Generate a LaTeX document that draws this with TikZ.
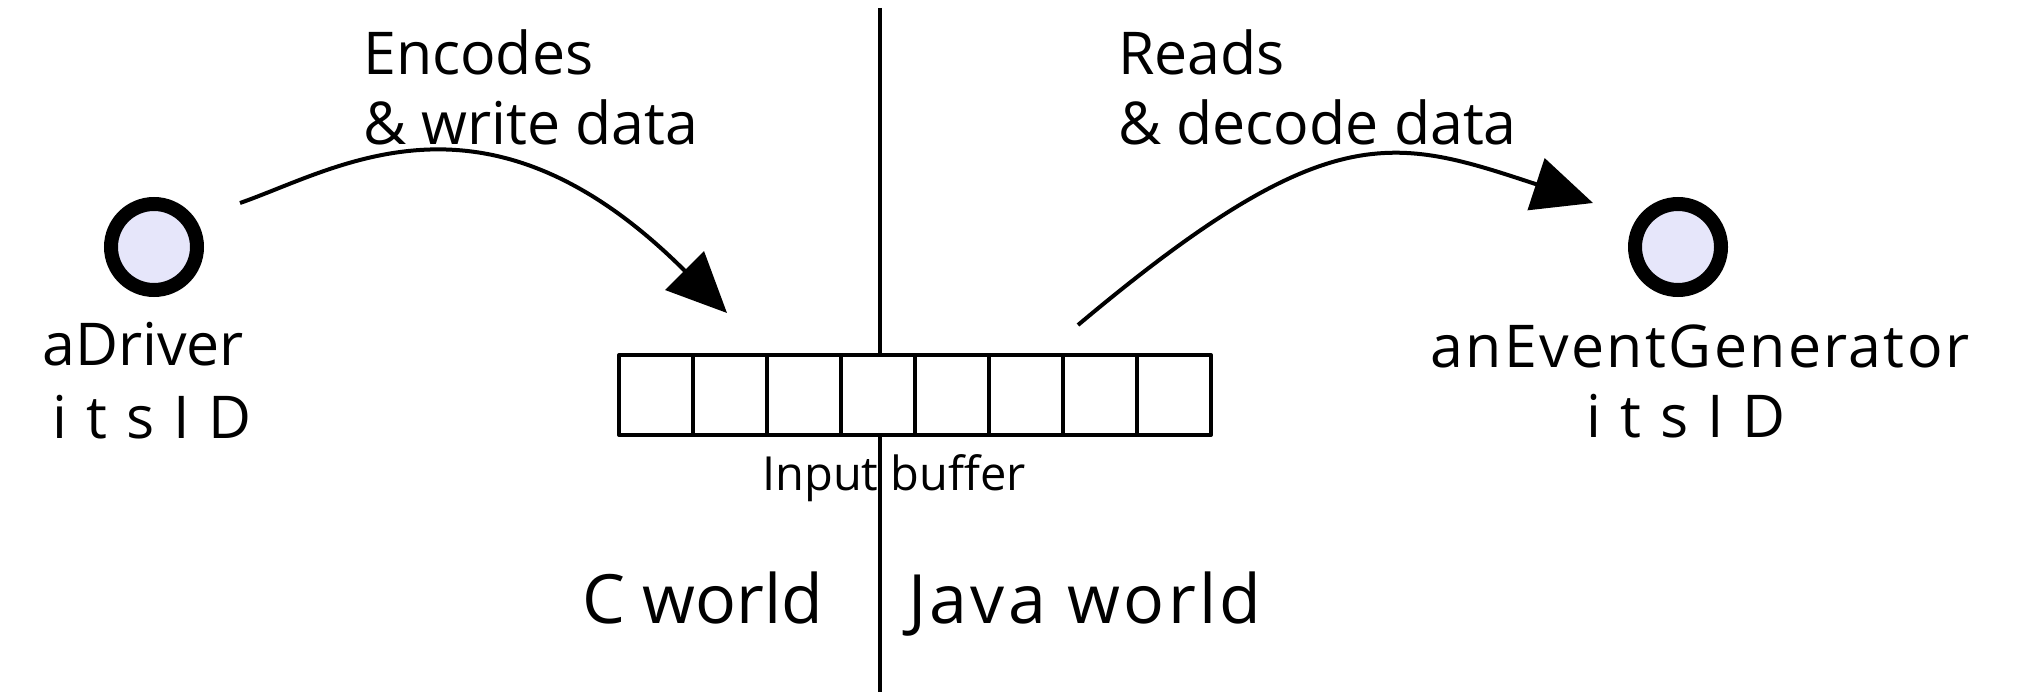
\documentclass[tikz,border=0pt]{standalone}
\usepackage{fontspec}
\setmainfont{Open Sans}
\usetikzlibrary{arrows.meta}
\definecolor{lav}{RGB}{230,230,250}
\begin{document}
\begin{tikzpicture}[x=1pt,y=-1pt,
  actor/.style={circle, draw=black, line width=14pt, fill=lav, minimum size=86pt, inner sep=0pt},
  big/.style={font=\fontsize{59}{70}\selectfont, inner sep=0pt},
  small/.style={font=\fontsize{47}{56}\selectfont, inner sep=0pt},
  world/.style={font=\fontsize{68}{80}\selectfont, inner sep=0pt},
  cell/.style={draw=black, fill=white, line width=4pt, minimum width=74pt, minimum height=80pt, inner sep=0pt, line join=round},
  flow/.style={line width=4pt, -{Triangle[length=60pt,width=54pt]}},
  divider/.style={line width=4pt}]
\useasboundingbox (0,0) rectangle (2017,692);
% divider between worlds
\coordinate (divtop) at (880,8);
\coordinate (divbot) at (880,692);
\draw[divider] (divtop) -- (divbot);
% input buffer
\foreach \i in {0,...,7} {
  \node[cell] (c\i) at ({656+74*\i},395) {};
}
% actors
\node[actor] (drv) at (154,247) {};
\node[actor] (gen) at (1678,247) {};
% labels
\node[big, anchor=base] (drvname) at (143,365) {aDriver};
\node[big, anchor=base] (drvid) at (152,438) {\addfontfeature{LetterSpace=32}itsID};
\node[big, anchor=base] (genname) at (1700,367) {\addfontfeature{LetterSpace=4}anEventGenerator};
\node[big, anchor=base] (genid) at (1686,437) {\addfontfeature{LetterSpace=32}itsID};
\node[big, anchor=base west] (enc1) at (363,75) {Encodes};
\node[big, anchor=base west] (enc2) at (363,145) {\& write data};
\node[big, anchor=base west] (rd1) at (1118,75) {Reads};
\node[big, anchor=base west] (rd2) at (1118,145) {\& decode data};
\node[small, anchor=base] (buflbl) at (894,490) {Input buffer};
\node[world, anchor=base west] (cw) at (582,623) {C world};
\node[world, anchor=base west] (jw) at (908,623) {\addfontfeature{LetterSpace=5}Java world};
% connectors
\coordinate (a1s) at (240,203);
\coordinate (a1e) at (727,313);
\draw[flow] (a1s) .. controls (340,168) and (487,73) .. (a1e);
\coordinate (a2s) at (1078,325);
\coordinate (a2e) at (1593,203);
\draw[flow] (a2s) .. controls (1328,115) and (1393,137) .. (a2e);
\end{tikzpicture}
\end{document}
